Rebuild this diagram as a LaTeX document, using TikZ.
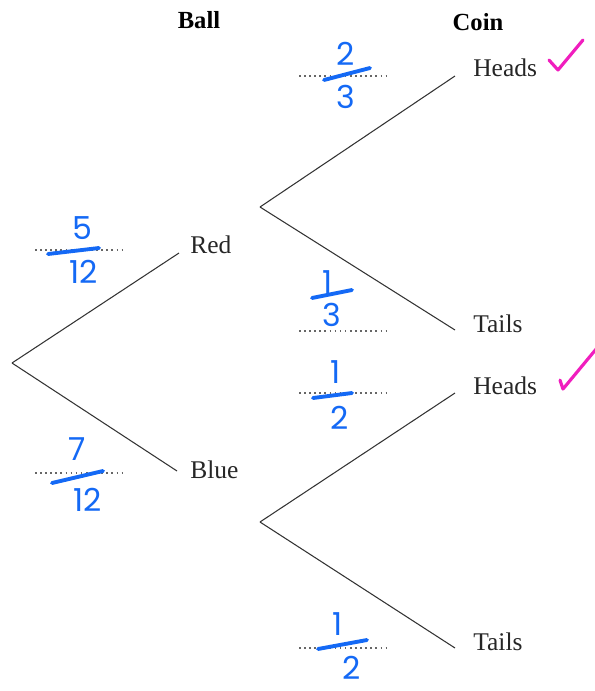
\documentclass[tikz,border=0pt]{standalone}
\usepackage{fontspec}
\setmainfont{Liberation Serif}
\newfontfamily\handfont{Poppins}
\usetikzlibrary{positioning}
\definecolor{inkblue}{RGB}{20,105,245}
\definecolor{inkpink}{RGB}{240,30,190}

\begin{document}
\begin{tikzpicture}[x=0.02cm,y=-0.02cm,
  branch/.style={line width=0.6pt,black!80},
  blank/.style={dotted,line width=0.9pt,black!60},
  lbl/.style={font=\fontsize{14.5}{17}\selectfont,text=black!85,inner sep=0pt},
  head/.style={font=\fontsize{14}{17}\selectfont\bfseries,inner sep=0pt},
  hand/.style={font=\handfont\fontsize{18}{22}\selectfont,text=inkblue,inner sep=0pt},
  bar/.style={inkblue,line width=2.2pt,line cap=round},
  tick/.style={inkpink,line width=1.8pt,line cap=round,line join=round}]
  \useasboundingbox (0,0) rectangle (595,691);
  % headings
  \node[head] (ball) at (199,20) {Ball};
  \node[head] (coin) at (478,22) {Coin};
  % first stage: ball
  \coordinate (root) at (12,363);
  \coordinate (redEnd) at (179,253);
  \coordinate (blueEnd) at (177,471);
  \node[lbl,anchor=west] (red) at (190,245) {Red};
  \node[lbl,anchor=west] (blue) at (190,470) {Blue};
  \draw[branch] (root) -- (redEnd);
  \draw[branch] (root) -- (blueEnd);
  % second stage: coin
  \coordinate (redFork) at (260,207);
  \coordinate (blueFork) at (260,522);
  \coordinate (rhEnd) at (455,76);
  \coordinate (rtEnd) at (455,330);
  \coordinate (bhEnd) at (455,393);
  \coordinate (btEnd) at (455,648);
  \node[lbl,anchor=west] (redHeads) at (473,68) {Heads};
  \node[lbl,anchor=west] (redTails) at (473,324) {Tails};
  \node[lbl,anchor=west] (blueHeads) at (473,386) {Heads};
  \node[lbl,anchor=west] (blueTails) at (473,642) {Tails};
  \draw[branch] (redFork) -- (rhEnd);
  \draw[branch] (redFork) -- (rtEnd);
  \draw[branch] (blueFork) -- (bhEnd);
  \draw[branch] (blueFork) -- (btEnd);
  % answer lines
  \draw[blank] (35,250) -- (122,250);
  \draw[blank] (35,473) -- (122,473);
  \draw[blank] (299,76) -- (388,76);
  \draw[blank] (299,331) -- (388,331);
  \draw[blank] (299,393) -- (388,393);
  \draw[blank] (299,648) -- (388,648);
  % written answers
  \node[hand] (pRedN) at (82,228) {5};
  \node[hand] (pRedD) at (84,272) {12};
  \draw[bar] (48,254) -- (99,248);
  \node[hand] (pBlueN) at (77,449) {7};
  \node[hand] (pBlueD) at (88,500) {12};
  \draw[bar] (52,483) -- (103,471);
  \node[hand] (pRHN) at (346,54) {2};
  \node[hand] (pRHD) at (346,97) {3};
  \draw[bar] (324,80) -- (370,68);
  \node[hand] (pRTN) at (328,282) {1};
  \node[hand] (pRTD) at (332,315) {3};
  \draw[bar] (312,298) -- (352,290);
  \node[hand] (pBHN) at (336,372) {1};
  \node[hand] (pBHD) at (340,418) {2};
  \draw[bar] (313,398) -- (352,393);
  \node[hand] (pBTN) at (338,624) {1};
  \node[hand] (pBTD) at (352,668) {2};
  \draw[bar] (318,649) -- (367,640);
  % ticks
  \draw[tick] (549,60) -- (558,70) -- (583,40);
  \draw[tick] (560,380) -- (563,389) -- (597,348);
\end{tikzpicture}
\end{document}
